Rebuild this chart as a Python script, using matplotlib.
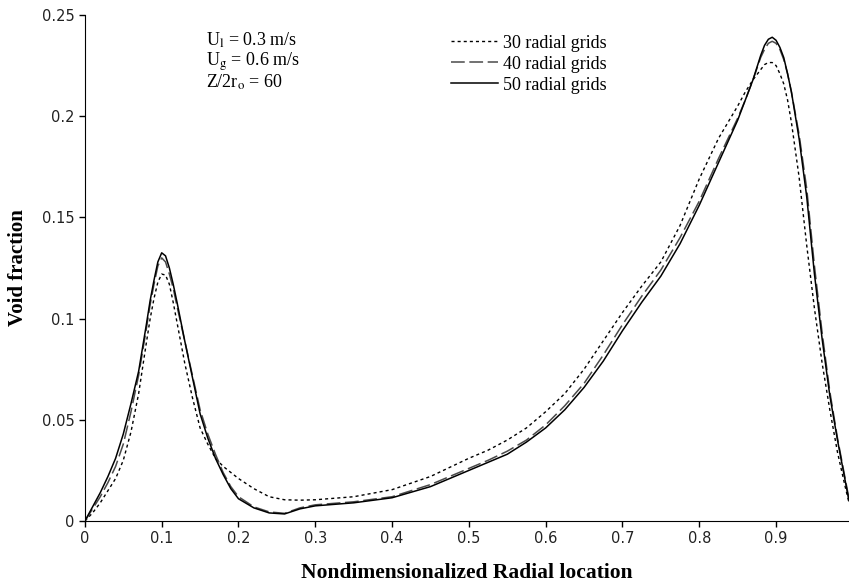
import matplotlib.pyplot as plt

plt.rcParams['mathtext.fontset'] = 'stix'

# radial location (shared by all three runs)
r = [0, 0.01, 0.02, 0.03, 0.04, 0.05, 0.06, 0.07, 0.08,
     0.085, 0.09, 0.095, 0.1, 0.105, 0.11, 0.115, 0.12,
     0.13, 0.14, 0.15, 0.16, 0.17, 0.18, 0.19, 0.2,
     0.22, 0.24, 0.26, 0.28, 0.3,
     0.35, 0.4, 0.45,
     0.5, 0.525, 0.55, 0.575, 0.6, 0.625, 0.65, 0.675, 0.7, 0.725, 0.75, 0.775, 0.8, 0.825, 0.85,
     0.86, 0.87, 0.88, 0.885, 0.89, 0.895, 0.9, 0.905, 0.91, 0.915, 0.92,
     0.93, 0.94, 0.95, 0.96, 0.97, 0.98, 0.99,
     0.995]

void_30 = [0, 0.004, 0.009, 0.015, 0.021, 0.030, 0.044, 0.063, 0.088,
           0.100, 0.110, 0.118, 0.122, 0.1215, 0.117, 0.108, 0.098,
           0.078, 0.061, 0.046, 0.038, 0.031, 0.027, 0.024, 0.021,
           0.016, 0.012, 0.0105, 0.0103, 0.0105,
           0.012, 0.0155, 0.022,
           0.031, 0.035, 0.040, 0.046, 0.054, 0.063, 0.075, 0.089, 0.103, 0.116, 0.128, 0.146, 0.169, 0.189, 0.205,
           0.212, 0.218, 0.223, 0.2255, 0.2265, 0.2265, 0.225, 0.221, 0.216, 0.208, 0.197,
           0.170, 0.136, 0.105, 0.078, 0.055, 0.034, 0.017,
           0.009]

void_40 = [0, 0.006, 0.012, 0.019, 0.027, 0.038, 0.054, 0.072, 0.095,
           0.107, 0.117, 0.126, 0.130, 0.128, 0.122, 0.115, 0.106,
           0.089, 0.072, 0.055, 0.043, 0.033, 0.024, 0.017, 0.012,
           0.007, 0.0045, 0.0038, 0.0065, 0.008,
           0.0095, 0.012, 0.018,
           0.026, 0.030, 0.0345, 0.040, 0.0475, 0.057, 0.068, 0.082, 0.097, 0.111, 0.124, 0.140, 0.158, 0.179, 0.199,
           0.208, 0.218, 0.229, 0.233, 0.236, 0.237, 0.236, 0.233, 0.228, 0.221, 0.212,
           0.191, 0.164, 0.126, 0.093, 0.064, 0.041, 0.021,
           0.011]

void_50 = [0, 0.007, 0.014, 0.022, 0.031, 0.043, 0.058, 0.074, 0.097,
           0.109, 0.119, 0.128, 0.1325, 0.131, 0.125, 0.117, 0.108,
           0.089, 0.071, 0.053, 0.041, 0.031, 0.023, 0.016, 0.011,
           0.0065, 0.004, 0.0035, 0.006, 0.0075,
           0.009, 0.0115, 0.017,
           0.025, 0.029, 0.033, 0.039, 0.046, 0.055, 0.066, 0.079, 0.094, 0.108, 0.121, 0.137, 0.156, 0.177, 0.198,
           0.208, 0.218, 0.230, 0.235, 0.238, 0.239, 0.2375, 0.234, 0.229, 0.221, 0.212,
           0.189, 0.160, 0.122, 0.090, 0.062, 0.040, 0.020,
           0.010]

labels = ['30 radial grids', '40 radial grids', '50 radial grids']
conds = [r'U$_\mathrm{l}$ = 0.3 m/s', r'U$_\mathrm{g}$ = 0.6 m/s', r'Z/2r$_\mathrm{o}$ = 60']
xticks = [0, 0.1, 0.2, 0.3, 0.4, 0.5, 0.6, 0.7, 0.8, 0.9]
yticks = [0, 0.05, 0.1, 0.15, 0.2, 0.25]

fig = plt.figure(figsize=(8.49, 5.83), dpi=100)
ax = fig.add_axes([0.100, 0.1063, 0.900, 0.868])

ax.plot(r, void_30, color='black', lw=1.0, linestyle=(0, (2.2, 2.2)), label=labels[0])
ax.plot(r, void_40, color='#4a4a4a', lw=1.1, linestyle=(0, (9, 3)), label=labels[1])
ax.plot(r, void_50, color='black', lw=1.1, label=labels[2])

ax.set_xlim(0, 0.995)
ax.set_ylim(0, 0.25)
ax.set_xticks(xticks)
ax.set_xticklabels([f'{t:g}' for t in xticks])
ax.set_yticks(yticks)
ax.set_yticklabels([f'{t:g}' for t in yticks])
ax.spines['top'].set_visible(False)
ax.spines['right'].set_visible(False)
ax.tick_params(direction='out', length=4, width=1, labelsize=10.5, colors='black')
for lab in ax.get_xticklabels() + ax.get_yticklabels():
    lab.set_color('#222222')

ax.set_xlabel('Nondimensionalized Radial location', family='Liberation Serif',
              fontweight='bold', fontsize=15.5, labelpad=12)
ax.set_ylabel('Void fraction', family='Liberation Serif',
              fontweight='bold', fontsize=15, labelpad=10)

for i, c in enumerate(conds):
    ax.text(0.158, 0.950 - i * 0.042, c, transform=ax.transAxes, family='Liberation Serif',
            fontsize=13, va='center', ha='left')

leg = ax.legend(loc='upper left', bbox_to_anchor=(0.458, 0.993), frameon=False,
                prop={'family': 'Liberation Serif', 'size': 13},
                handlelength=2.6, handletextpad=0.3, labelspacing=0.22)

fig.savefig('out.png', dpi=100)
